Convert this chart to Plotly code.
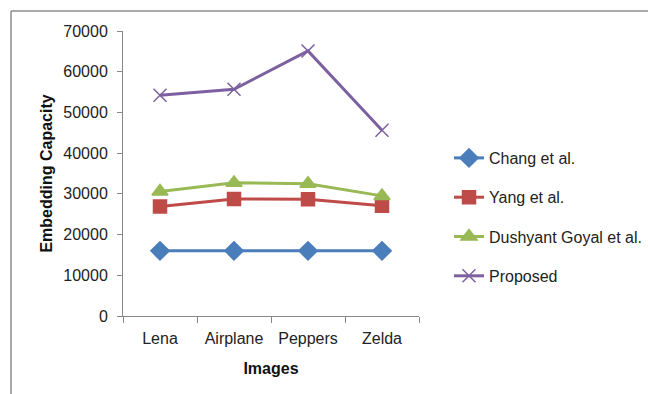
import plotly.graph_objects as go

images = ["Lena", "Airplane", "Peppers", "Zelda"]
chang = [16000, 16000, 16000, 16000]
yang = [26900, 28750, 28650, 27100]
goyal = [30600, 32700, 32500, 29500]
proposed = [54200, 55700, 65100, 45600]

series = [
    ("Chang et al.", chang, "#4A7EBB", "diamond", 14),
    ("Yang et al.", yang, "#BE4B48", "square", 13),
    ("Dushyant Goyal et al.", goyal, "#98B954", "triangle-up", 14),
    ("Proposed", proposed, "#7D60A0", "x-thin-open", 13),
]

font = "Liberation Sans"
fig = go.Figure()
for i, (name, vals, color, symbol, size) in enumerate(series):
    fig.add_trace(go.Scatter(
        x=images, y=vals, name=name, mode="lines+markers",
        legendgroup=f"g{i}",
        line=dict(color=color, width=3),
        marker=dict(symbol=symbol, size=size, color=color,
                    line=dict(color=color, width=1.5)),
    ))

# plot area: x 123..419, y 31..316 in pixels
L, R, T, B = 123, 648 - 419, 31, 394 - 316
pw, ph = 648 - L - R, 394 - T - B

def px(x):
    return (x - L) / pw

def py(y):
    return (394 - B - y) / ph

fs = 16
fig.update_layout(
    width=648, height=394,
    margin=dict(l=L, r=R, t=T, b=B, autoexpand=False),
    paper_bgcolor="white", plot_bgcolor="white",
    font=dict(family=font, size=fs, color="#222"),
    showlegend=True,
    legend=dict(x=px(449), y=py(141), xanchor="left", yanchor="top",
                font=dict(family=font, size=fs, color="#222"),
                tracegroupgap=15.5, itemwidth=30, bgcolor="rgba(0,0,0,0)"),
    xaxis=dict(
        type="category", range=[-0.5, 3.5], tickson="boundaries",
        showline=True, linecolor="#888", linewidth=1,
        ticks="outside", ticklen=6, tickcolor="#888",
        showgrid=False, zeroline=False, ticklabelstandoff=8,
        tickfont=dict(family=font, size=fs, color="#222"),
        title=dict(text="<b>Images</b>", standoff=16,
                   font=dict(family=font, size=fs, color="#111")),
    ),
    yaxis=dict(
        range=[0, 70000], dtick=10000, tickformat="d",
        showline=True, linecolor="#888", linewidth=1,
        ticks="outside", ticklen=5, tickcolor="#888",
        showgrid=False, zeroline=False, ticklabelstandoff=6,
        tickfont=dict(family=font, size=fs, color="#222"),
        title=dict(text="<b>Embedding Capacity</b>", standoff=6,
                   font=dict(family=font, size=fs, color="#111")),
    ),
    shapes=[
        dict(type="line", xref="paper", yref="paper",
             x0=px(11), x1=px(11), y0=py(11), y1=py(400),
             line=dict(color="#8c8c8c", width=1.5)),
        dict(type="line", xref="paper", yref="paper",
             x0=px(11), x1=px(660), y0=py(11), y1=py(11),
             line=dict(color="#8c8c8c", width=1.5)),
    ],
)

fig.write_html("out.html")
